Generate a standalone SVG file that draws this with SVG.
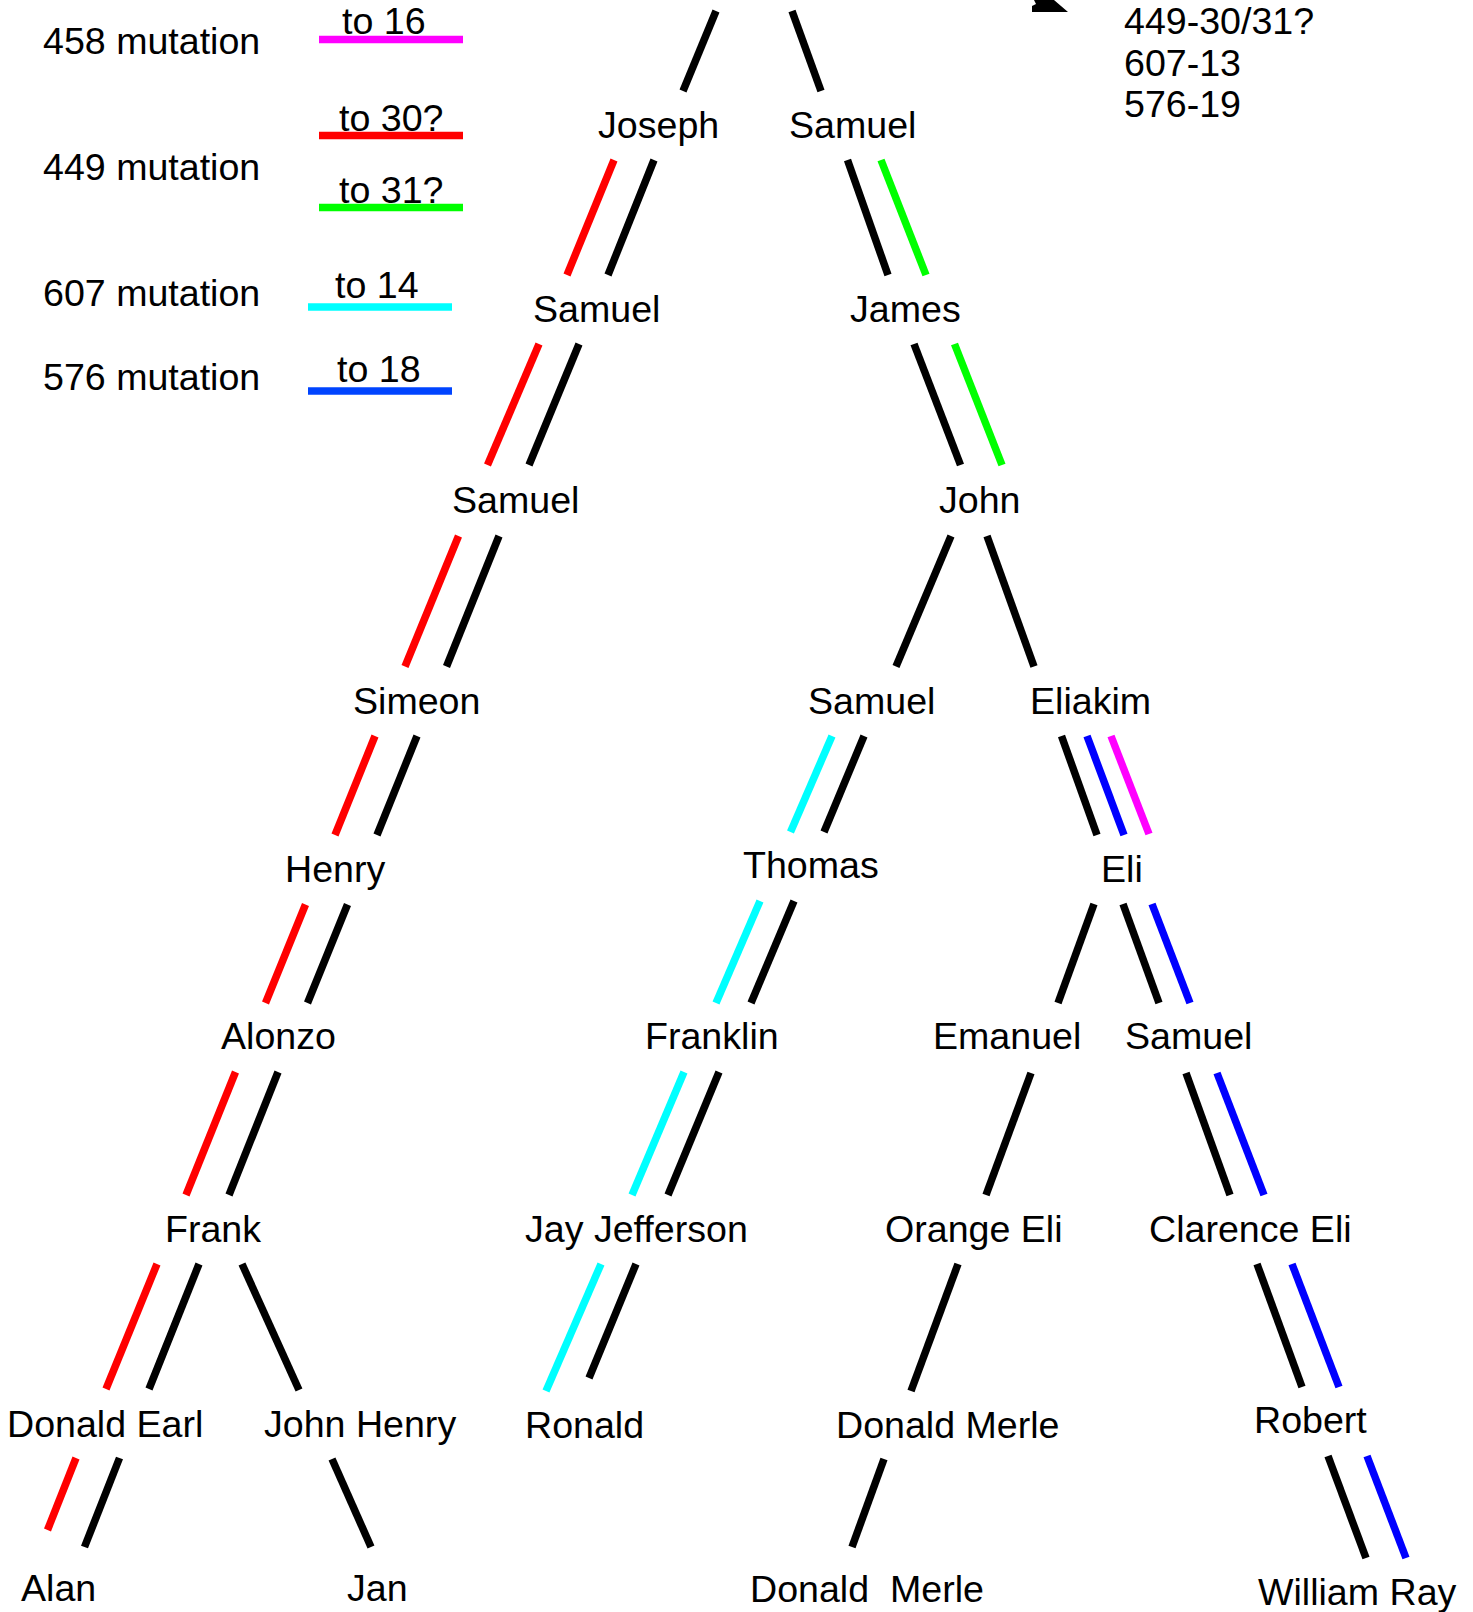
<svg xmlns="http://www.w3.org/2000/svg" width="1473" height="1612" viewBox="0 0 1473 1612">
<style>
text { font-family: "Liberation Sans", Arial, sans-serif; font-size: 37.6px; fill: #000; }
.c { stroke-width: 7.5; stroke-linecap: butt; fill: none; }
.k { stroke: #000; }
.r { stroke: #ff0000; }
.g { stroke: #00ff00; }
.cy { stroke: #00ffff; }
.b { stroke: #0000ff; }
.m { stroke: #ff00ff; }
.lg { stroke-width: 7.5; }
</style>
<rect width="1473" height="1612" fill="#fff"/>

<g id="legend">
  <text x="43" y="54">458 mutation</text>
  <text x="43" y="180">449 mutation</text>
  <text x="43" y="306">607 mutation</text>
  <text x="43" y="390">576 mutation</text>
  <text x="342" y="34">to 16</text>
  <line class="lg" x1="319" y1="39.5" x2="463" y2="39.5" stroke="#ff00ff"/>
  <text x="339" y="131">to 30?</text>
  <line class="lg" x1="319" y1="135.5" x2="463" y2="135.5" stroke="#ff0000"/>
  <text x="339" y="203">to 31?</text>
  <line class="lg" x1="319" y1="207.5" x2="463" y2="207.5" stroke="#00ff00"/>
  <text x="335" y="298">to 14</text>
  <line class="lg" x1="308" y1="307" x2="452" y2="307" stroke="#00ffff"/>
  <text x="337" y="382">to 18</text>
  <line class="lg" x1="308" y1="391" x2="452" y2="391" stroke="#0044ff"/>
</g>

<g id="note">
  <polygon points="1032,12 1068,12 1054,0 1034,0 1036,4 1032,6" fill="#000"/>
  <text x="1124" y="34">449-30/31?</text>
  <text x="1124" y="76">607-13</text>
  <text x="1124" y="117">576-19</text>
</g>

<g id="n-joseph"><text x="598" y="138">Joseph</text></g>
<g id="n-samuel-a"><text x="789" y="138">Samuel</text></g>
<g id="n-samuel-b"><text x="533" y="322">Samuel</text></g>
<g id="n-james"><text x="850" y="322">James</text></g>
<g id="n-samuel-c"><text x="452" y="513">Samuel</text></g>
<g id="n-john"><text x="939" y="513">John</text></g>
<g id="n-simeon"><text x="353" y="714">Simeon</text></g>
<g id="n-samuel-d"><text x="808" y="714">Samuel</text></g>
<g id="n-eliakim"><text x="1030" y="714">Eliakim</text></g>
<g id="n-henry"><text x="285" y="882">Henry</text></g>
<g id="n-thomas"><text x="743" y="878">Thomas</text></g>
<g id="n-eli"><text x="1101" y="882">Eli</text></g>
<g id="n-alonzo"><text x="221" y="1049">Alonzo</text></g>
<g id="n-franklin"><text x="645" y="1049">Franklin</text></g>
<g id="n-emanuel"><text x="933" y="1049">Emanuel</text></g>
<g id="n-samuel-e"><text x="1125" y="1049">Samuel</text></g>
<g id="n-frank"><text x="165" y="1242">Frank</text></g>
<g id="n-jay"><text x="525" y="1242">Jay Jefferson</text></g>
<g id="n-orange"><text x="885" y="1242">Orange Eli</text></g>
<g id="n-clarence"><text x="1149" y="1242">Clarence Eli</text></g>
<g id="n-donald-earl"><text x="7" y="1437">Donald Earl</text></g>
<g id="n-john-henry"><text x="264" y="1437">John Henry</text></g>
<g id="n-ronald"><text x="525" y="1438">Ronald</text></g>
<g id="n-donald-merle"><text x="836" y="1438">Donald Merle</text></g>
<g id="n-robert"><text x="1254" y="1433">Robert</text></g>
<g id="n-alan"><text x="21" y="1601">Alan</text></g>
<g id="n-jan"><text x="347" y="1601">Jan</text></g>
<g id="n-donald-merle-2"><text x="750" y="1602" xml:space="preserve" style="white-space:pre">Donald  Merle</text></g>
<g id="n-william-ray"><text x="1258" y="1605">William Ray</text></g>

<g id="connectors">
  <line class="c k" x1="716" y1="11" x2="683" y2="91"/>
  <line class="c k" x1="792" y1="11" x2="821" y2="91"/>
  <line class="c r" x1="614" y1="160" x2="567" y2="275"/>
  <line class="c k" x1="654" y1="160" x2="608" y2="275"/>
  <line class="c k" x1="847.5" y1="160" x2="888" y2="275"/>
  <line class="c g" x1="881" y1="160" x2="926" y2="275"/>
  <line class="c r" x1="539" y1="344" x2="487.5" y2="465"/>
  <line class="c k" x1="579" y1="344" x2="529" y2="465"/>
  <line class="c k" x1="914" y1="344" x2="960.5" y2="465"/>
  <line class="c g" x1="954.5" y1="344" x2="1002" y2="465"/>
  <line class="c r" x1="458.5" y1="536" x2="405" y2="666.5"/>
  <line class="c k" x1="499" y1="536" x2="446.5" y2="666.5"/>
  <line class="c k" x1="951" y1="536" x2="896" y2="666.5"/>
  <line class="c k" x1="987" y1="536" x2="1034" y2="666.5"/>
  <line class="c r" x1="375" y1="736" x2="335" y2="835"/>
  <line class="c k" x1="417" y1="736" x2="377" y2="835"/>
  <line class="c cy" x1="832" y1="736" x2="790.5" y2="832"/>
  <line class="c k" x1="864" y1="736" x2="824" y2="832"/>
  <line class="c k" x1="1061.5" y1="736" x2="1097" y2="835"/>
  <line class="c b" x1="1087" y1="736" x2="1124" y2="835"/>
  <line class="c m" x1="1111" y1="736" x2="1149" y2="834"/>
  <line class="c r" x1="305.5" y1="904.5" x2="265.5" y2="1003"/>
  <line class="c k" x1="347.5" y1="904.5" x2="307.5" y2="1003"/>
  <line class="c cy" x1="760" y1="901" x2="716" y2="1003"/>
  <line class="c k" x1="794" y1="901" x2="751" y2="1003"/>
  <line class="c k" x1="1094" y1="904" x2="1058" y2="1003"/>
  <line class="c k" x1="1123" y1="904" x2="1159" y2="1003"/>
  <line class="c b" x1="1152" y1="904" x2="1190" y2="1003"/>
  <line class="c r" x1="235.5" y1="1072" x2="186" y2="1195"/>
  <line class="c k" x1="278" y1="1072" x2="229" y2="1195"/>
  <line class="c cy" x1="684" y1="1072" x2="632" y2="1195"/>
  <line class="c k" x1="719" y1="1072" x2="668" y2="1195"/>
  <line class="c k" x1="1031" y1="1073" x2="986" y2="1195"/>
  <line class="c k" x1="1186" y1="1073" x2="1230" y2="1195"/>
  <line class="c b" x1="1217" y1="1073" x2="1264" y2="1195"/>
  <line class="c r" x1="157" y1="1264" x2="106" y2="1389"/>
  <line class="c k" x1="199" y1="1264" x2="149" y2="1389"/>
  <line class="c k" x1="242" y1="1264" x2="299" y2="1390"/>
  <line class="c cy" x1="601" y1="1264" x2="546" y2="1391"/>
  <line class="c k" x1="636" y1="1264" x2="589" y2="1378"/>
  <line class="c k" x1="958" y1="1264" x2="911" y2="1391"/>
  <line class="c k" x1="1257" y1="1264" x2="1302" y2="1387"/>
  <line class="c b" x1="1292" y1="1264" x2="1339" y2="1387"/>
  <line class="c r" x1="76" y1="1458" x2="47.5" y2="1530"/>
  <line class="c k" x1="119.5" y1="1458" x2="84.5" y2="1547"/>
  <line class="c k" x1="332" y1="1459" x2="371" y2="1547"/>
  <line class="c k" x1="884" y1="1459" x2="852" y2="1547"/>
  <line class="c k" x1="1328" y1="1456" x2="1366" y2="1558"/>
  <line class="c b" x1="1367" y1="1456" x2="1406" y2="1558"/>
</g>
</svg>
